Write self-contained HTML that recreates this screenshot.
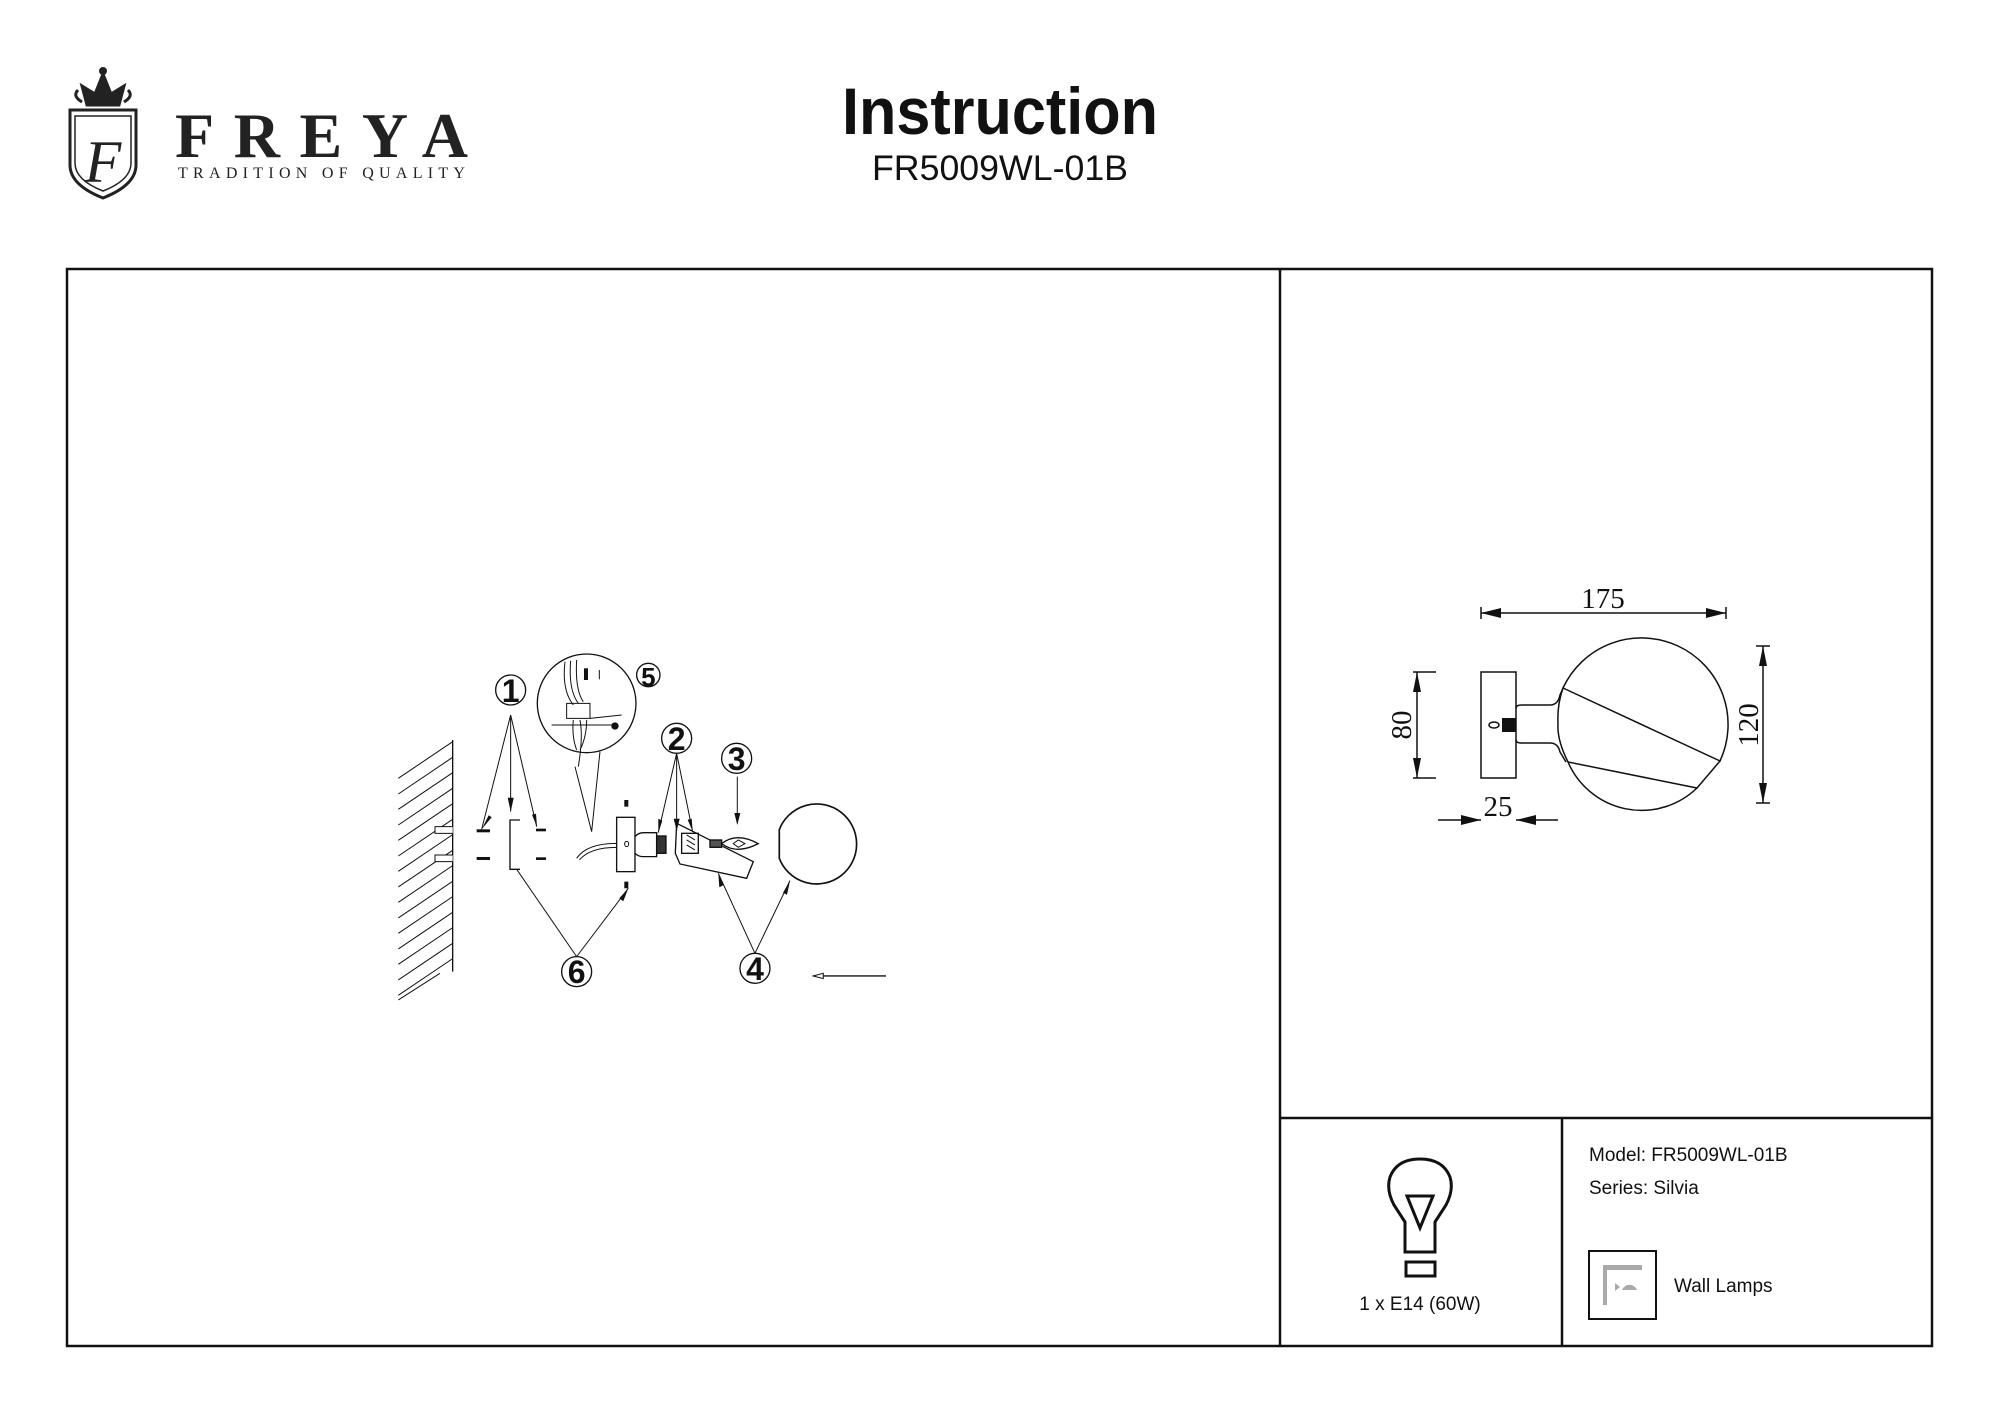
<!DOCTYPE html>
<html><head><meta charset="utf-8"><style>html,body{margin:0;padding:0;background:#fff}svg{display:block}</style></head>
<body>
<svg width="2000" height="1413" viewBox="0 0 2000 1413" xmlns="http://www.w3.org/2000/svg" font-family="Liberation Sans, sans-serif">
<rect width="2000" height="1413" fill="#fff"/>
<!-- Logo -->
<g fill="none" stroke="#222" stroke-width="3">
<path d="M70 110 H136 V165 Q136 185 103 198 Q70 185 70 165 Z"/>
<path d="M75 116 H131 V163 Q131 180 103 191 Q75 180 75 163 Z" stroke-width="1.5"/>
<path d="M82 102 Q72 96 78 90 M124 102 Q134 96 128 90" />
<path d="M87 105 H119 L124 86 L111 94 L103 74 L95 94 L82 86 Z" fill="#222"/>
</g>
<circle cx="103" cy="71" r="4" fill="#222"/>
<text x="103" y="182" font-family="Liberation Serif, serif" font-style="italic" font-size="60" text-anchor="middle" fill="#222">F</text>
<text x="175" y="157" font-family="Liberation Serif, serif" font-weight="bold" font-size="64" fill="#222" textLength="293" lengthAdjust="spacing">FREYA</text>
<text x="178" y="178" font-family="Liberation Serif, serif" font-size="16" fill="#222" textLength="287" lengthAdjust="spacing">TRADITION OF QUALITY</text>
<!-- Title -->
<text x="842" y="134" font-weight="bold" font-size="66" fill="#111" textLength="316" lengthAdjust="spacingAndGlyphs">Instruction</text>
<text x="872" y="180" font-size="35" fill="#111" textLength="256" lengthAdjust="spacingAndGlyphs">FR5009WL-01B</text>
<!-- Frame -->
<g fill="none" stroke="#111" stroke-width="2.5">
<rect x="67" y="269" width="1865" height="1077"/>
<line x1="1280" y1="269" x2="1280" y2="1346"/>
<line x1="1280" y1="1118" x2="1932" y2="1118"/>
<line x1="1562" y1="1118" x2="1562" y2="1346"/>
</g>
<!-- Bulb icon -->
<g fill="none" stroke="#111" stroke-width="3">
<path d="M1405 1252 V1222 L1394 1205 Q1386 1190 1390 1177 Q1397 1159 1420 1159 Q1443 1159 1450 1177 Q1454 1190 1446 1205 L1435 1222 V1252 Z"/>
<path d="M1407 1196 H1433 L1420 1228 Z"/>
<rect x="1406" y="1262" width="29" height="14"/>
</g>
<text x="1420" y="1310" font-size="19" text-anchor="middle" fill="#111">1 x E14 (60W)</text>
<text x="1589" y="1161" font-size="19" fill="#111">Model: FR5009WL-01B</text>
<text x="1589" y="1194" font-size="19" fill="#111">Series: Silvia</text>
<rect x="1589" y="1251" width="67" height="68" fill="none" stroke="#111" stroke-width="2"/>
<path d="M1603 1305 V1265 H1642 V1270 H1607 V1305 Z" fill="#aaa"/>
<path d="M1622 1290 A8 8 0 0 1 1637 1290 Z M1615 1283 L1620 1287 L1615 1291 Z" fill="#aaa"/>
<text x="1674" y="1292" font-size="19" fill="#111">Wall Lamps</text>
<!-- Dimension drawing -->
<g fill="none" stroke="#111" stroke-width="1.5">
<line x1="1481" y1="613" x2="1726" y2="613"/>
<line x1="1481" y1="607" x2="1481" y2="619"/><line x1="1726" y1="607" x2="1726" y2="619"/>
<rect x="1481" y="672" width="35" height="106"/>
<path d="M1516 708 Q1516 705 1522 705 H1550 Q1558 705 1560 695 L1563 688"/>
<path d="M1516 740 Q1516 743 1522 743 H1550 Q1558 743 1560 752 L1566 762"/>
<path d="M1563 688 L1720 761 L1697 788 L1568 762 Q1557 740 1558 724 Q1557 705 1563 688 Z"/>
<path d="M1563 688 A80 80 0 0 1 1720 761 M1697 788 A80 80 0 0 1 1568 762"/>
<ellipse cx="1494" cy="725" rx="5" ry="3"/>
<line x1="1417" y1="672" x2="1417" y2="778"/>
<line x1="1413" y1="672" x2="1436" y2="672"/><line x1="1413" y1="778" x2="1436" y2="778"/>
<line x1="1763" y1="646" x2="1763" y2="803"/>
<line x1="1756" y1="646" x2="1770" y2="646"/><line x1="1756" y1="803" x2="1770" y2="803"/>
<line x1="1438" y1="820" x2="1481" y2="820"/><line x1="1516" y1="820" x2="1558" y2="820"/>
</g>
<rect x="1502" y="718" width="14" height="14" fill="#111"/>
<g fill="#111">
<path d="M1481 613 l20 -5 v10 z"/><path d="M1726 613 l-20 -5 v10 z"/>
<path d="M1417 672 l-4 20 h8 z"/><path d="M1417 778 l-4 -20 h8 z"/>
<path d="M1763 646 l-4 20 h8 z"/><path d="M1763 803 l-4 -20 h8 z"/>
<path d="M1481 820 l-20 -5 v10 z"/><path d="M1516 820 l20 -5 v10 z"/>
</g>
<g font-family="Liberation Serif, serif" font-size="29" fill="#111">
<text x="1603" y="608" text-anchor="middle">175</text>
<text x="1498" y="816" text-anchor="middle">25</text>
<text transform="translate(1411 725) rotate(-90)" text-anchor="middle">80</text>
<text transform="translate(1758 725) rotate(-90)" text-anchor="middle">120</text>
</g>
<!-- Assembly diagram -->
<g transform="translate(380 640) scale(0.3333)" fill="none" stroke="#111" stroke-width="4">
<line x1="218" y1="300" x2="218" y2="995"/>
<g stroke-width="3">
<line x1="218" y1="305" x2="55" y2="415"/><line x1="218" y1="352" x2="55" y2="462"/><line x1="218" y1="398" x2="55" y2="508"/><line x1="218" y1="445" x2="55" y2="555"/><line x1="218" y1="491" x2="55" y2="601"/><line x1="218" y1="538" x2="55" y2="648"/><line x1="218" y1="584" x2="55" y2="694"/><line x1="218" y1="631" x2="55" y2="741"/><line x1="218" y1="677" x2="55" y2="787"/><line x1="218" y1="724" x2="55" y2="834"/><line x1="218" y1="770" x2="55" y2="880"/><line x1="218" y1="817" x2="55" y2="927"/><line x1="218" y1="863" x2="55" y2="973"/><line x1="218" y1="910" x2="55" y2="1020"/><line x1="218" y1="956" x2="55" y2="1066"/><line x1="180" y1="1000" x2="55" y2="1080"/>
</g>
<path d="M218 560 H165 V580 H218 M218 645 H165 V665 H218" fill="#fff" stroke-width="3"/>
<g fill="#111" stroke="none">
<rect x="290" y="568" width="40" height="9"/><rect x="290" y="651" width="40" height="9"/>
<rect x="468" y="566" width="30" height="8"/><rect x="468" y="652" width="30" height="8"/>
<rect x="733" y="480" width="12" height="20"/><rect x="733" y="725" width="12" height="20"/>
</g>
<path d="M420 540 H390 V688 H420"/>
<path d="M392 225 L305 568 M392 225 V515 M392 225 L470 560" stroke-width="3"/>
<circle cx="392" cy="150" r="45"/>
<circle cx="620" cy="190" r="148" fill="#fff"/>
<path d="M585 380 L635 575 L660 335" stroke-width="3"/>
<path d="M555 65 Q545 150 580 195 M572 62 Q565 150 595 190 M590 60 Q585 150 610 185 M580 240 Q575 290 590 330 M600 240 Q610 290 595 380 M620 240 Q620 290 600 330" stroke-width="3"/>
<path d="M560 190 h70 v45 h-70 z" stroke-width="3"/>
<path d="M515 255 H600 M600 255 H700 M630 235 L725 225" stroke-width="3"/>
<circle cx="705" cy="258" r="9" fill="#111"/>
<rect x="612" y="85" width="12" height="35" fill="#111" stroke="none"/>
<path d="M658 90 V118" stroke-width="3"/>
<circle cx="805" cy="105" r="35"/>
<path d="M590 655 Q620 610 710 610 M598 660 Q630 622 710 622" stroke-width="3"/>
<rect x="710" y="532" width="55" height="163" fill="#fff"/>
<ellipse cx="740" cy="612" rx="6" ry="8" stroke-width="3"/>
<path d="M765 590 Q775 578 790 578 H830 V650 H790 Q775 650 765 640"/>
<rect x="830" y="588" width="28" height="52" fill="#333"/>
<circle cx="890" cy="295" r="45"/>
<path d="M890 340 L835 578 M890 340 V572 M890 340 L938 575" stroke-width="3"/>
<path d="M890 550 L1120 665 L1100 715 L900 672 L886 640 Z"/>
<rect x="905" y="580" width="50" height="60"/>
<path d="M920 585 L945 600 M920 600 L945 615 M920 615 L945 630" stroke-width="3"/>
<rect x="990" y="600" width="35" height="22" fill="#555"/>
<path d="M1025 611 Q1070 575 1135 611 Q1070 645 1025 611 Z" fill="#fff"/>
<path d="M1060 611 L1075 600 L1095 611 L1075 622 Z" stroke-width="3"/>
<circle cx="1070" cy="355" r="45"/>
<line x1="1072" y1="410" x2="1072" y2="550" stroke-width="3"/>
<path d="M1198 569 A120 120 0 1 1 1198 655 Z" stroke-width="5"/>
<circle cx="1125" cy="985" r="45"/>
<path d="M1125 940 L1015 700 M1125 940 L1230 722" stroke-width="3"/>
<circle cx="590" cy="995" r="45"/>
<path d="M590 950 L410 688 M590 950 L745 745" stroke-width="3"/>
<line x1="1518" y1="1008" x2="1300" y2="1008"/>
<path d="M1300 1008 L1330 1000 V1016 Z" fill="#fff" stroke-width="3"/>
</g>
<g font-weight="bold" font-size="32" fill="#111" text-anchor="middle">
<text x="510.7" y="702">1</text>
<text x="648.3" y="686" font-size="26">5</text>
<text x="676.7" y="750">2</text>
<text x="736.7" y="770">3</text>
<text x="755" y="980">4</text>
<text x="576.7" y="983">6</text>
</g>
<g fill="#111">
<path d="M481.7 829.3 l7 -14 l3 2 z"/>
<path d="M510.7 811.7 l-3 -14 h6 z"/>
<path d="M537 826.7 l-5 -12 l4 -1 z"/>
<path d="M658.3 832.7 l0 -14 l4 2 z"/>
<path d="M676.7 830.7 l-3 -12 h6 z"/>
<path d="M692.7 831.7 l-5 -12 l4 -1 z"/>
<path d="M737.3 825 l-3 -12 h6 z"/>
<path d="M718.3 873.3 l1 14 l4 -2 z"/>
<path d="M790 880.7 l-7 12 l4 2 z"/>
<path d="M628.3 888.3 l-9 10 l4 3 z"/>
</g>
</svg>
</body></html>
